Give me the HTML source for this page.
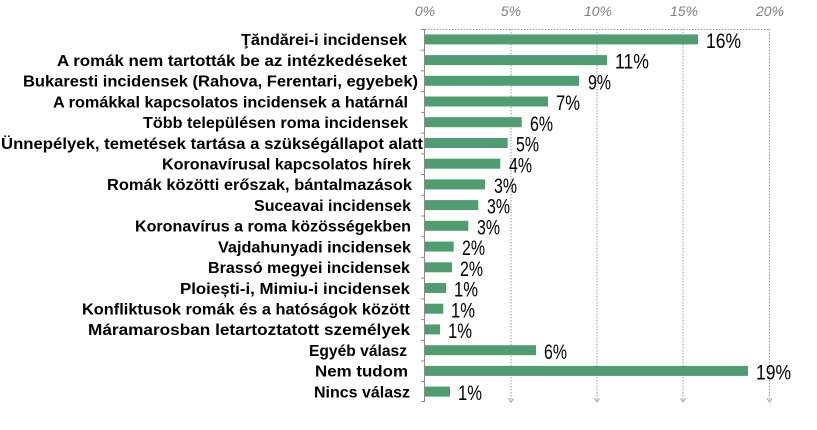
<!DOCTYPE html>
<html><head><meta charset="utf-8"><style>
html,body{margin:0;padding:0;background:#fff;}
svg{display:block;}
.lb{font-family:"Liberation Sans",sans-serif;font-weight:bold;font-size:16px;fill:#000;}
.vl{font-family:"Liberation Sans",sans-serif;font-size:21px;fill:#000;}
.tk{font-family:"Liberation Sans",sans-serif;font-style:italic;font-size:14px;fill:#808080;}
</style></head><body>
<svg width="817" height="430" viewBox="0 0 817 430" xmlns="http://www.w3.org/2000/svg">
<g stroke="#9a9a9a" stroke-width="1" stroke-dasharray="1.5,1.5" fill="none">
<line x1="425" y1="29.5" x2="770" y2="29.5"/>
<line x1="511" y1="29" x2="511" y2="401"/>
<line x1="597" y1="29" x2="597" y2="401"/>
<line x1="683" y1="29" x2="683" y2="401"/>
<line x1="769.5" y1="29" x2="769.5" y2="401"/>
</g>
<g stroke="#9a9a9a" stroke-width="1" fill="none">
<polyline points="508.5,398.5 511,402 513.5,398.5"/>
<polyline points="594.5,398.5 597,402 599.5,398.5"/>
<polyline points="680.5,398.5 683,402 685.5,398.5"/>
<polyline points="767,398.5 769.5,402 772,398.5"/>
</g>
<g class="tk" text-anchor="middle">
<text x="425" y="16">0%</text>
<text x="511" y="16">5%</text>
<text x="598" y="16">10%</text>
<text x="684" y="16">15%</text>
<text x="770" y="16">20%</text>
</g>
<g fill="#4f9d71">
<rect x="425" y="34.4" width="273" height="10"/>
<rect x="425" y="55.1" width="182" height="10"/>
<rect x="425" y="75.8" width="154" height="10"/>
<rect x="425" y="96.5" width="123" height="10"/>
<rect x="425" y="117.2" width="96.7" height="10"/>
<rect x="425" y="138.0" width="82.7" height="10"/>
<rect x="425" y="158.7" width="75.3" height="10"/>
<rect x="425" y="179.4" width="60" height="10"/>
<rect x="425" y="200.1" width="53.3" height="10"/>
<rect x="425" y="220.8" width="43.3" height="10"/>
<rect x="425" y="241.6" width="28.7" height="10"/>
<rect x="425" y="262.3" width="27" height="10"/>
<rect x="425" y="283.0" width="21" height="10"/>
<rect x="425" y="303.7" width="18.3" height="10"/>
<rect x="425" y="324.4" width="15" height="10"/>
<rect x="425" y="345.2" width="111" height="10"/>
<rect x="425" y="365.9" width="323" height="10"/>
<rect x="425" y="386.6" width="25" height="10"/>
</g>
<g stroke="#8c8c8c" stroke-width="1" fill="none">
<line x1="424.5" y1="29" x2="424.5" y2="402"/>
<line x1="421" y1="29.5" x2="424.5" y2="29.5"/>
<line x1="421" y1="50.2" x2="424.5" y2="50.2"/>
<line x1="421" y1="70.9" x2="424.5" y2="70.9"/>
<line x1="421" y1="91.7" x2="424.5" y2="91.7"/>
<line x1="421" y1="112.4" x2="424.5" y2="112.4"/>
<line x1="421" y1="133.1" x2="424.5" y2="133.1"/>
<line x1="421" y1="153.8" x2="424.5" y2="153.8"/>
<line x1="421" y1="174.5" x2="424.5" y2="174.5"/>
<line x1="421" y1="195.3" x2="424.5" y2="195.3"/>
<line x1="421" y1="216.0" x2="424.5" y2="216.0"/>
<line x1="421" y1="236.7" x2="424.5" y2="236.7"/>
<line x1="421" y1="257.4" x2="424.5" y2="257.4"/>
<line x1="421" y1="278.1" x2="424.5" y2="278.1"/>
<line x1="421" y1="298.9" x2="424.5" y2="298.9"/>
<line x1="421" y1="319.6" x2="424.5" y2="319.6"/>
<line x1="421" y1="340.3" x2="424.5" y2="340.3"/>
<line x1="421" y1="361.0" x2="424.5" y2="361.0"/>
<line x1="421" y1="381.7" x2="424.5" y2="381.7"/>
<line x1="421" y1="401.5" x2="424.5" y2="401.5"/>
</g>
<g class="lb">
<text x="241" y="45.2" textLength="166" lengthAdjust="spacingAndGlyphs">Ţăndărei-i incidensek</text>
<text x="57" y="65.9" textLength="350" lengthAdjust="spacingAndGlyphs">A romák nem tartották be az intézkedéseket</text>
<text x="23" y="86.6" textLength="395" lengthAdjust="spacingAndGlyphs">Bukaresti incidensek (Rahova, Ferentari, egyebek)</text>
<text x="53" y="107.3" textLength="355" lengthAdjust="spacingAndGlyphs">A romákkal kapcsolatos incidensek a határnál</text>
<text x="143" y="128.0" textLength="265" lengthAdjust="spacingAndGlyphs">Több településen roma incidensek</text>
<text x="1" y="148.8" textLength="422" lengthAdjust="spacingAndGlyphs">Ünnepélyek, temetések tartása a szükségállapot alatt</text>
<text x="162" y="169.5" textLength="249" lengthAdjust="spacingAndGlyphs">Koronavírusal kapcsolatos hírek</text>
<text x="107" y="190.2" textLength="305" lengthAdjust="spacingAndGlyphs">Romák közötti erőszak, bántalmazások</text>
<text x="254" y="210.9" textLength="157" lengthAdjust="spacingAndGlyphs">Suceavai incidensek</text>
<text x="135" y="231.6" textLength="276" lengthAdjust="spacingAndGlyphs">Koronavírus a roma közösségekben</text>
<text x="218" y="252.4" textLength="193" lengthAdjust="spacingAndGlyphs">Vajdahunyadi incidensek</text>
<text x="208" y="273.1" textLength="202" lengthAdjust="spacingAndGlyphs">Brassó megyei incidensek</text>
<text x="180" y="293.8" textLength="230" lengthAdjust="spacingAndGlyphs">Ploiești-i, Mimiu-i incidensek</text>
<text x="82" y="314.5" textLength="328" lengthAdjust="spacingAndGlyphs">Konfliktusok romák és a hatóságok között</text>
<text x="88" y="335.2" textLength="322" lengthAdjust="spacingAndGlyphs">Máramarosban letartoztatott személyek</text>
<text x="309" y="356.0" textLength="98" lengthAdjust="spacingAndGlyphs">Egyéb válasz</text>
<text x="315" y="376.7" textLength="93" lengthAdjust="spacingAndGlyphs">Nem tudom</text>
<text x="314" y="397.4" textLength="96" lengthAdjust="spacingAndGlyphs">Nincs válasz</text>
</g>
<g class="vl">
<text x="706" y="48" textLength="35" lengthAdjust="spacingAndGlyphs">16%</text>
<text x="615" y="68.7" textLength="34" lengthAdjust="spacingAndGlyphs">11%</text>
<text x="588" y="89.4" textLength="23" lengthAdjust="spacingAndGlyphs">9%</text>
<text x="556" y="110.1" textLength="24" lengthAdjust="spacingAndGlyphs">7%</text>
<text x="530" y="130.8" textLength="23" lengthAdjust="spacingAndGlyphs">6%</text>
<text x="516" y="151.6" textLength="23" lengthAdjust="spacingAndGlyphs">5%</text>
<text x="509" y="172.3" textLength="23" lengthAdjust="spacingAndGlyphs">4%</text>
<text x="494" y="193.0" textLength="23" lengthAdjust="spacingAndGlyphs">3%</text>
<text x="487" y="213.7" textLength="23" lengthAdjust="spacingAndGlyphs">3%</text>
<text x="477" y="234.4" textLength="23" lengthAdjust="spacingAndGlyphs">3%</text>
<text x="462" y="255.2" textLength="23" lengthAdjust="spacingAndGlyphs">2%</text>
<text x="460" y="275.9" textLength="23" lengthAdjust="spacingAndGlyphs">2%</text>
<text x="454" y="296.6" textLength="24" lengthAdjust="spacingAndGlyphs">1%</text>
<text x="451" y="317.3" textLength="24" lengthAdjust="spacingAndGlyphs">1%</text>
<text x="448" y="338.0" textLength="24" lengthAdjust="spacingAndGlyphs">1%</text>
<text x="544" y="358.8" textLength="23" lengthAdjust="spacingAndGlyphs">6%</text>
<text x="756" y="379.5" textLength="35" lengthAdjust="spacingAndGlyphs">19%</text>
<text x="458" y="400.2" textLength="24" lengthAdjust="spacingAndGlyphs">1%</text>
</g>
</svg>
</body></html>
